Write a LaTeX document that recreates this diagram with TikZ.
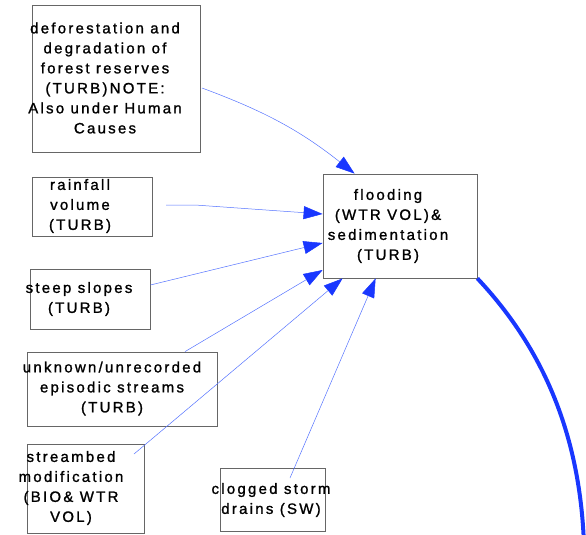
\documentclass[tikz,border=0pt]{standalone}
\usepackage{fontspec}
\setmainfont{Liberation Sans}[LetterSpace=15,FakeBold=1.2]
\usetikzlibrary{arrows.meta,positioning}
\definecolor{linkblue}{RGB}{85,115,255}
\definecolor{headblue}{RGB}{25,55,255}
\tikzstyle{link} = [draw=linkblue, line width=0.5pt, -{Triangle[length=19pt,width=13pt,color=headblue]}]

\begin{document}
\begin{tikzpicture}[x=1pt,y=-1pt]
\tikzset{box/.style={draw=black!60,line width=0.8pt,rectangle,inner sep=0pt},
  txt/.style={align=center,inner sep=0pt,font=\fontsize{15}{20}\selectfont}}
\useasboundingbox (0,0) rectangle (586,535);

% causes on the left, effect in the middle
\node[box,minimum width=168pt,minimum height=147pt] (defor) at (116,78.5) {};
\node[txt] (defor-t) at (105,78) {deforestation and\\degradation of\\forest reserves\\(TURB)NOTE:\\Also under Human\\Causes};

\node[box,minimum width=120pt,minimum height=59pt] (rain) at (92,206.5) {};
\node[txt] (rain-t) at (80,206) {rainfall\\volume\\(TURB)};

\node[box,minimum width=120pt,minimum height=60pt] (steep) at (90,299) {};
\node[txt] (steep-t) at (79,299) {steep slopes\\(TURB)};

\node[box,minimum width=190pt,minimum height=74pt] (unknown) at (122,389) {};
\node[txt] (unknown-t) at (112,388.5) {unknown/unrecorded\\episodic streams\\(TURB)};

\node[box,minimum width=117pt,minimum height=89pt] (bed) at (85.5,488.5) {};
\node[txt] (bed-t) at (71,488) {streambed\\modification\\(BIO\& WTR\\VOL)};

\node[box,minimum width=105pt,minimum height=63pt] (clog) at (272.5,499.5) {};
\node[txt] (clog-t) at (271,500) {clogged storm\\drains (SW)};

\node[box,minimum width=154pt,minimum height=104pt] (flood) at (400,226) {};
\node[txt] (flood-t) at (388,226) {flooding\\(WTR VOL)\&\\sedimentation\\(TURB)};

% loose ends of the links
\coordinate (defor-out) at (202,88);
\coordinate (rain-out) at (166,205);
\coordinate (bed-out) at (134,454);
\coordinate (clog-out) at (290,478);

\draw[link] (defor-out) to[bend left=9] ([xshift=32pt]flood.north west);
\draw[link] (rain-out) -- ++(29,0) -- ([yshift=12pt]flood.west);
\draw[link] ([yshift=14pt]steep.east) -- ([yshift=-17pt]flood.west);
\draw[link] ([xshift=63pt]unknown.north) -- ([yshift=-44pt]flood.west);
\draw[link] (bed-out) -- ([xshift=20pt]flood.south west);
\draw[link] (clog-out) -- ([xshift=53pt]flood.south west);

% outgoing link runs off the page
\draw[headblue,line width=4pt] (flood.south east) .. controls (540,345) and (580,430) .. (584,545);
\end{tikzpicture}
\end{document}
